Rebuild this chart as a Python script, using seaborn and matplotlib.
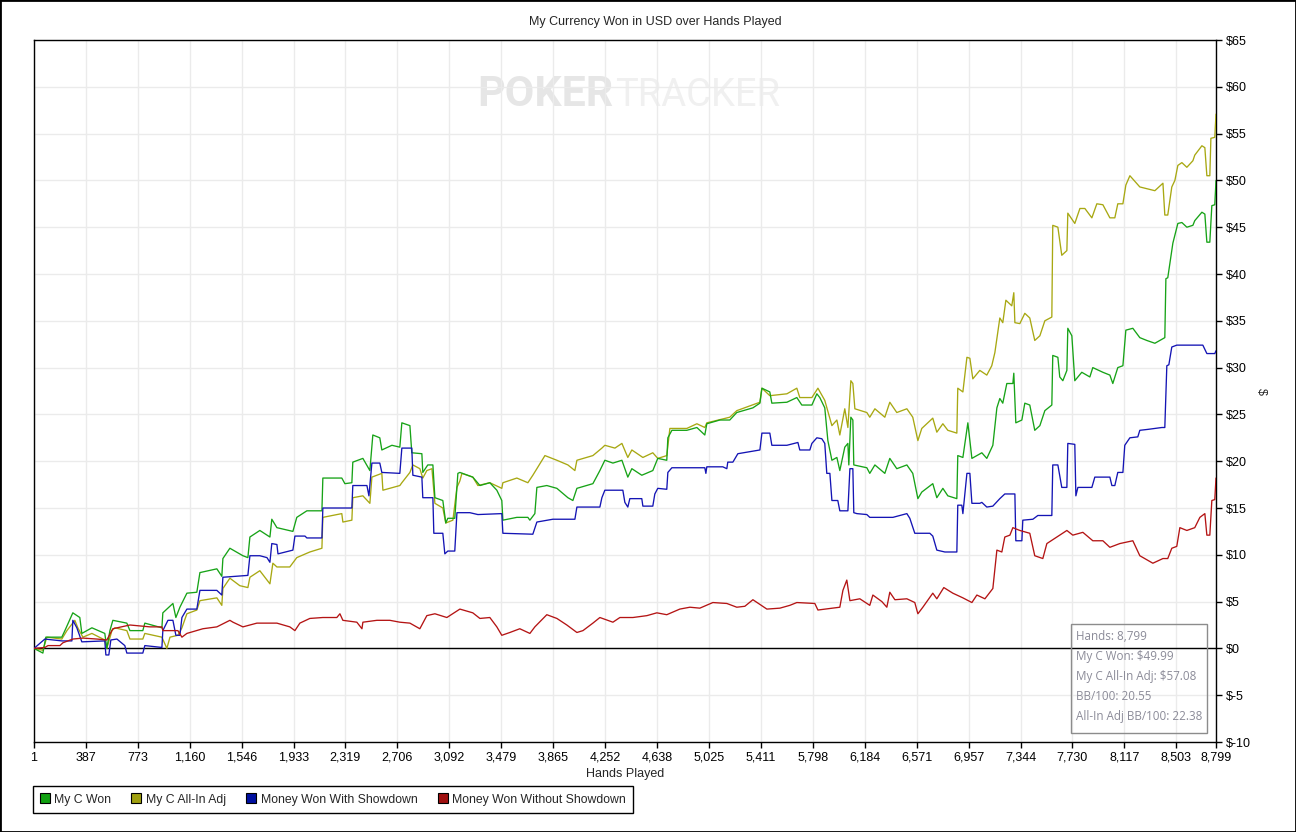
import numpy as np
import pandas as pd
import matplotlib
matplotlib.use("Agg")
import matplotlib.pyplot as plt
import seaborn as sns
from matplotlib.lines import Line2D
from matplotlib.patches import Rectangle

# ---------------- data ----------------
won_hands = [1, 67, 89, 208, 231, 290, 342, 357, 432, 528, 543, 566, 588, 692, 715, 811, 826, 953, 960,
             1035, 1057, 1087, 1139, 1213, 1236, 1362, 1399, 1407, 1459, 1556, 1593, 1608, 1682, 1757,
             1771, 1809, 1928, 1957, 2032, 2144, 2151, 2292, 2315, 2367, 2374, 2449, 2501, 2523, 2575,
             2590, 2665, 2724, 2739, 2799, 2813, 2888, 2895, 2932, 2970, 2985, 3044, 3066, 3081, 3133,
             3156, 3171, 3267, 3320, 3394, 3446, 3483, 3491, 3595, 3677, 3692, 3729, 3744, 3818, 3893,
             3975, 4012, 4042, 4161, 4213, 4250, 4310, 4377, 4421, 4451, 4525, 4607, 4644, 4711, 4719,
             4749, 4860, 4935, 4994, 5009, 5106, 5180, 5232, 5352, 5404, 5419, 5478, 5493, 5605, 5679,
             5716, 5791, 5828, 5850, 5887, 5910, 5940, 5977, 5999, 6036, 6059, 6066, 6081, 6096, 6103,
             6200, 6222, 6260, 6334, 6371, 6423, 6498, 6542, 6580, 6609, 6691, 6721, 6766, 6803, 6870,
             6877, 6915, 6952, 6982, 7056, 7093, 7138, 7168, 7190, 7212, 7242, 7287, 7294, 7309, 7354,
             7376, 7413, 7450, 7488, 7525, 7577, 7584, 7622, 7636, 7659, 7689, 7696, 7726, 7748, 7800,
             7860, 7882, 7957, 8009, 8031, 8068, 8106, 8128, 8180, 8232, 8284, 8344, 8418, 8426, 8440,
             8470, 8478, 8515, 8545, 8582, 8627, 8641, 8694, 8716, 8731, 8753, 8768, 8790, 8799]
won_vals = [0, -0.5, 1.2, 1.2, 1.9, 3.8, 3.3, 1.6, 2.2, 1.6, 0, 1.9, 3.0, 2.7, 1.9, 1.9, 2.7, 2.2, 3.8,
            4.8, 3.3, 4.4, 5.9, 6.0, 8.1, 8.5, 7.7, 9.6, 10.7, 9.9, 9.7, 11.9, 12.6, 11.9,
            13.8, 12.9, 12.5, 14.0, 14.7, 14.7, 18.2, 18.2, 17.6, 17.7, 19.9, 20.3, 19.0, 22.8, 22.5,
            21.2, 21.7, 21.5, 24.1, 23.8, 20.9, 20.8, 18.8, 19.6, 19.6, 16.1, 15.8, 13.4, 13.9, 13.9,
            18.7, 18.8, 18.3, 17.4, 17.7, 16.9, 15.8, 13.7, 14.0, 14.0, 13.7, 14.4, 17.2, 17.4, 17.1,
            16.1, 15.8, 17.1, 17.6, 19.0, 20.1, 19.8, 20.1, 18.3, 19.2, 18.5, 19.0, 20.3, 20.1, 22.5,
            23.3, 23.3, 23.6, 22.8, 24.0, 24.4, 24.4, 25.2, 25.7, 26.2, 27.8, 27.4, 26.2, 26.3, 26.8,
            26.0, 26.0, 27.2, 26.8, 25.7, 22.2, 20.1, 20.4, 19.0, 21.5, 21.9, 19.6, 24.7, 24.4, 19.6,
            19.3, 18.7, 19.6, 18.7, 20.3, 19.2, 19.6, 18.7, 16.0, 16.7, 17.6, 16.1, 17.1, 16.3, 16.0,
            20.6, 20.4, 24.1, 20.3, 20.9, 20.3, 21.7, 25.7, 26.7, 26.2, 28.3, 28.3, 29.4, 24.1, 24.4,
            26.2, 26.0, 23.3, 23.8, 25.4, 26.0, 31.3, 31.1, 29.0, 28.6, 29.7, 34.2, 33.4, 28.6, 29.5,
            29.0, 30.0, 29.5, 29.2, 28.3, 30.0, 30.2, 34.0, 34.2, 33.2, 32.9, 32.6, 33.2, 39.5, 39.6,
            42.5, 43.3, 45.4, 45.5, 45.0, 45.2, 45.7, 46.6, 46.4, 43.4, 43.4, 47.3, 47.4, 49.99]

adj_hands = [1, 67, 97, 208, 246, 305, 327, 365, 432, 528, 543, 581, 603, 692, 715, 811, 826, 953, 990,
             1013, 1072, 1102, 1139, 1213, 1236, 1362, 1399, 1407, 1459, 1533, 1593, 1608, 1682, 1757,
             1779, 1809, 1905, 1957, 2054, 2144, 2151, 2292, 2300, 2367, 2374, 2449, 2501, 2516, 2590,
             2598, 2724, 2739, 2799, 2821, 2873, 2895, 2925, 2963, 2985, 3044, 3066, 3119, 3149, 3171,
             3186, 3267, 3305, 3394, 3483, 3491, 3595, 3677, 3714, 3804, 3893, 3975, 4027, 4042, 4161,
             4228, 4250, 4325, 4377, 4421, 4451, 4533, 4607, 4644, 4711, 4734, 4860, 4935, 4994, 5009,
             5180, 5232, 5404, 5419, 5478, 5605, 5679, 5701, 5791, 5836, 5887, 5940, 5977, 5999, 6036,
             6059, 6081, 6096, 6111, 6200, 6222, 6260, 6334, 6371, 6423, 6498, 6542, 6580, 6609, 6691,
             6721, 6766, 6803, 6870, 6877, 6915, 6945, 6967, 6989, 7041, 7093, 7130, 7153, 7190, 7212,
             7235, 7279, 7294, 7302, 7339, 7376, 7413, 7450, 7488, 7525, 7577, 7584, 7622, 7651, 7689,
             7696, 7748, 7786, 7823, 7875, 7912, 7957, 8009, 8046, 8068, 8106, 8128, 8158, 8232, 8344,
             8404, 8418, 8440, 8470, 8493, 8515, 8545, 8582, 8627, 8641, 8694, 8716, 8731, 8753, 8761,
             8790, 8799]
adj_vals = [0, -0.2, 1.2, 1.0, 1.9, 3.0, 2.2, 1.2, 1.6, 0.9, 0, 1.9, 2.2, 1.9, 1.0, 1.0, 1.6, 1.2, 0,
            1.2, 1.4, 2.2, 3.7, 4.1, 5.1, 5.4, 4.6, 6.4, 7.5, 6.7, 6.5, 7.6, 8.3, 6.9,
            9.1, 8.7, 8.7, 9.7, 10.3, 10.7, 14.0, 14.4, 13.5, 13.7, 16.1, 16.3, 15.5, 18.3, 18.7,
            16.9, 17.4, 17.7, 18.8, 19.6, 19.2, 18.2, 19.0, 19.2, 15.5, 15.0, 13.4, 13.7, 17.2, 17.9,
            18.7, 18.3, 17.4, 17.7, 17.1, 17.7, 18.2, 17.7, 18.5, 20.6, 20.1, 19.6, 19.0, 20.1, 20.6,
            21.4, 21.7, 21.4, 21.9, 20.4, 21.2, 20.4, 20.9, 20.3, 20.6, 23.5, 23.5, 24.0, 23.6, 24.1,
            24.7, 25.4, 26.3, 27.8, 27.0, 27.2, 27.8, 26.8, 26.8, 27.8, 26.5, 23.8, 24.4, 22.8, 25.6,
            23.6, 28.6, 28.3, 25.6, 25.2, 24.7, 25.6, 24.7, 26.3, 25.2, 25.6, 24.7, 22.2, 23.5, 24.6,
            23.1, 24.0, 23.3, 23.0, 27.8, 27.4, 31.1, 31.0, 28.8, 29.7, 29.2, 30.2, 31.6, 35.3, 34.8,
            37.2, 36.6, 38.0, 34.8, 34.7, 35.8, 35.3, 32.9, 33.4, 35.0, 35.4, 45.2, 45.0, 42.0, 42.5,
            46.5, 45.4, 47.0, 47.0, 46.0, 47.5, 47.4, 46.0, 46.0, 47.5, 47.5, 49.5, 50.5, 49.3, 48.9,
            49.7, 46.3, 46.3, 49.3, 50.0, 51.6, 51.9, 51.4, 52.1, 52.7, 53.7, 53.5, 50.5, 50.5, 54.5,
            54.6, 57.08]

sd_hands = [1, 82, 208, 283, 290, 320, 357, 528, 536, 558, 573, 618, 677, 692, 811, 826, 953, 960, 998,
            1035, 1057, 1087, 1102, 1139, 1213, 1236, 1362, 1399, 1407, 1593, 1608, 1682, 1735, 1757,
            1771, 1809, 1817, 1928, 1943, 2018, 2032, 2144, 2151, 2367, 2374, 2479, 2494, 2516, 2575,
            2590, 2724, 2739, 2813, 2821, 2888, 2895, 2970, 2977, 3044, 3059, 3081, 3133, 3149, 3245,
            3305, 3483, 3491, 3714, 3744, 3863, 4027, 4042, 4213, 4228, 4250, 4384, 4399, 4421, 4436,
            4525, 4533, 4607, 4622, 4644, 4711, 4719, 4749, 4994, 5002, 5009, 5128, 5158, 5165, 5203,
            5240, 5404, 5419, 5478, 5493, 5605, 5687, 5701, 5776, 5791, 5828, 5865, 5887, 5902, 5925,
            5940, 5984, 5999, 6059, 6074, 6096, 6103, 6126, 6200, 6222, 6394, 6498, 6520, 6557, 6669,
            6691, 6721, 6781, 6870, 6877, 6907, 6915, 6945, 6967, 6982, 7041, 7056, 7093, 7138, 7190,
            7227, 7302, 7309, 7354, 7361, 7436, 7473, 7577, 7584, 7622, 7651, 7689, 7696, 7748, 7756,
            7771, 7875, 7897, 8009, 8024, 8046, 8068, 8106, 8120, 8158, 8217, 8232, 8292, 8396, 8418,
            8433, 8448, 8470, 8507, 8701, 8731, 8790, 8799]
sd_vals = [0, 1.0, 0.8, 0.8, 3.0, 2.2, 0.7, 0.8, -0.7, -0.7, 0.9, 1.0, 0.3, -0.5, -0.5, 0.3, 0.1, 1.9, 3.0,
           3.0, 1.4, 1.4, 3.3, 4.2, 4.2, 6.2, 6.2, 5.7, 7.6, 7.8, 9.9, 9.9, 9.7, 9.2,
           11.2, 11.1, 10.1, 10.5, 12.0, 12.0, 11.8, 11.8, 15.0, 15.0, 17.4, 17.4, 16.3, 19.8, 19.8,
           18.8, 18.7, 21.4, 21.4, 18.5, 18.3, 16.1, 16.1, 12.3, 12.3, 10.1, 10.4, 10.4, 14.5, 14.5,
           14.3, 14.4, 12.3, 12.2, 13.5, 13.8, 13.8, 15.1, 15.1, 16.1, 16.9, 16.9, 15.6, 15.1, 16.0,
           16.0, 15.2, 15.2, 16.5, 17.1, 17.0, 18.8, 19.3, 19.3, 18.7, 19.4, 19.4, 19.2, 19.9, 19.9,
           20.8, 21.2, 23.0, 23.0, 21.7, 21.7, 22.0, 21.2, 21.2, 21.9, 22.5, 22.4, 21.9, 18.7, 18.7,
           15.8, 15.8, 14.7, 14.7, 19.2, 19.2, 14.5, 14.4, 14.3, 14.0, 14.0, 14.4, 13.9, 12.3, 12.3,
           12.0, 10.5, 10.3, 10.3, 15.3, 15.3, 14.4, 18.7, 18.7, 15.5, 15.5, 15.6, 15.1, 15.2, 16.0,
           16.5, 16.5, 11.5, 11.5, 13.7, 13.8, 14.2, 14.2, 19.6, 19.6, 17.2, 17.2, 21.9, 21.8, 16.3,
           17.2, 17.2, 18.3, 18.3, 17.4, 17.4, 18.8, 18.8, 21.7, 22.5, 22.6, 23.3, 23.4, 23.6, 23.6,
           30.2, 30.3, 32.2, 32.4, 32.4, 31.5, 31.5, 31.8]

nsd_hands = [1, 82, 105, 194, 216, 290, 365, 469, 543, 588, 715, 864, 953, 960, 1072, 1102, 1139, 1258,
             1362, 1459, 1482, 1556, 1660, 1809, 1905, 1943, 1980, 2054, 2151, 2255, 2278, 2300, 2404,
             2442, 2449, 2553, 2650, 2724, 2799, 2873, 2925, 2985, 3074, 3171, 3267, 3320, 3394, 3446,
             3483, 3543, 3617, 3692, 3729, 3818, 3893, 3967, 4042, 4087, 4161, 4213, 4310, 4362, 4459,
             4563, 4637, 4711, 4808, 4883, 4957, 5054, 5158, 5232, 5292, 5352, 5456, 5553, 5627, 5679,
             5813, 5836, 5947, 5999, 6022, 6051, 6074, 6148, 6222, 6245, 6312, 6349, 6371, 6409, 6498,
             6557, 6580, 6617, 6691, 6721, 6773, 6840, 6915, 6982, 7019, 7079, 7138, 7168, 7205, 7227,
             7265, 7287, 7339, 7413, 7450, 7510, 7540, 7614, 7689, 7733, 7808, 7882, 7957, 8009, 8083,
             8180, 8232, 8329, 8404, 8440, 8470, 8507, 8530, 8582, 8641, 8679, 8716, 8731, 8753, 8768,
             8790, 8799]
nsd_vals = [0, 0.1, 0.3, 0.3, 0.6, 1.0, 1.1, 1.0, 0.9, 2.1, 2.5, 2.3, 2.3, 1.9, 1.9, 1.2, 1.6, 2.1,
            2.3, 3.0, 2.8, 2.3, 2.7, 2.7, 2.3, 1.9, 2.7, 3.2, 3.3, 3.3, 3.7, 3.0, 2.8,
            2.1, 2.8, 3.0, 3.0, 2.8, 2.7, 2.1, 3.5, 3.7, 3.3, 4.2, 3.8, 3.2, 3.3, 2.3,
            1.4, 1.7, 2.1, 1.6, 2.3, 3.6, 3.2, 2.5, 1.7, 1.9, 2.7, 3.3, 2.8, 3.3, 3.3,
            3.5, 3.8, 3.6, 4.2, 4.4, 4.3, 4.9, 4.8, 4.4, 4.5, 5.2, 4.2, 4.3, 4.6, 4.9,
            4.8, 4.1, 4.3, 4.4, 6.2, 7.3, 5.1, 5.3, 4.6, 5.7, 5.0, 4.4, 6.0, 5.2, 5.3,
            4.9, 3.7, 4.4, 5.9, 5.3, 6.5, 5.9, 5.4, 4.9, 5.7, 5.3, 6.4, 10.5, 10.3, 11.9,
            12.1, 12.9, 12.6, 12.3, 9.9, 9.6, 11.2, 11.9, 12.6, 12.1, 12.4, 11.5, 11.5, 10.8, 11.2,
            11.5, 9.9, 9.1, 9.6, 9.6, 10.7, 10.9, 12.9, 12.6, 12.9, 14.0, 14.4, 12.1, 12.1, 15.8,
            15.9, 18.2]

series_names = ["My C Won", "My C All-In Adj", "Money Won With Showdown", "Money Won Without Showdown"]
series_colors = ["#17a317", "#a8a812", "#1414b4", "#b41414"]
legend_colors = ["#10a010", "#a0a010", "#0010a0", "#a01010"]

x_ticks = [1, 387, 773, 1160, 1546, 1933, 2319, 2706, 3092, 3479, 3865, 4252, 4638, 5025, 5411,
           5798, 6184, 6571, 6957, 7344, 7730, 8117, 8503, 8799]
y_ticks = list(range(-10, 66, 5))

info_lines = ["Hands: 8,799", "My C Won: $49.99", "My C All-In Adj: $57.08",
              "BB/100: 20.55", "All-In Adj BB/100: 22.38"]
title_text = "My Currency Won in USD over Hands Played"

# ---------------- figure ----------------
sns.set_style("white")
plt.rcParams['font.family'] = ['Liberation Sans', 'DejaVu Sans']

W, H = 1296, 832
fig = plt.figure(figsize=(W / 100, H / 100), dpi=100)
L, R, T, B = 34, 1216, 40, 742
ax = fig.add_axes([L / W, 1 - B / H, (R - L) / W, (B - T) / H])

frames = []
for name, hs, vs in zip(series_names, [won_hands, adj_hands, sd_hands, nsd_hands],
                        [won_vals, adj_vals, sd_vals, nsd_vals]):
    frames.append(pd.DataFrame({"Hands": hs, "Value": vs, "Series": name}))
df = pd.concat(frames, ignore_index=True)

palette = dict(zip(series_names, series_colors))
draw_order = ["My C All-In Adj", "My C Won", "Money Won With Showdown", "Money Won Without Showdown"]
sns.lineplot(data=df, x="Hands", y="Value", hue="Series", hue_order=draw_order, palette=palette,
             estimator=None, sort=False, linewidth=0.95, ax=ax, legend=False, zorder=3)

ax.set_xlim(1, 8799)
ax.set_ylim(-10, 65)
ax.set_xticks(x_ticks)
ax.set_xticklabels([f"{v:,}" for v in x_ticks])
ax.yaxis.tick_right()
ax.yaxis.set_label_position("right")
ax.set_yticks(y_ticks)
ax.set_yticklabels([f"${v}" for v in y_ticks])
ax.grid(True, color="#ebebeb", linewidth=1.0)
ax.set_axisbelow(True)
ax.axhline(0, color="black", linewidth=1.0, zorder=2)
for sp in ax.spines.values():
    sp.set_color("black")
    sp.set_linewidth(1.0)
ax.tick_params(axis="both", which="both", direction="out", length=4, width=1, color="black",
               labelsize=9, pad=3, labelcolor="black")
ax.tick_params(axis="y", left=False, right=True)
ax.tick_params(axis="x", bottom=True)
ax.set_xlabel("Hands Played", fontsize=9, labelpad=3)
ax.set_ylabel("$", fontsize=9, rotation=270, labelpad=12)

fig.text(655 / W, 1 - 22 / H, title_text, ha="center", va="center", fontsize=9)

# watermark
wm1 = ax.text(477 / W, 1 - 106 / H, "POKER", transform=fig.transFigure, fontsize=33,
              fontweight="bold", color="#e6e6e6", ha="left", va="baseline", zorder=0.2,
              family="Roboto")
wm2 = ax.text(615 / W, 1 - 106 / H, "TRACKER", transform=fig.transFigure, fontsize=33,
              color="#f0f0f0", ha="left", va="baseline", zorder=0.2, family="Roboto")
fig.canvas.draw()
rend = fig.canvas.get_renderer()
for t, target in [(wm1, 613 - 477), (wm2, 780 - 615)]:
    w = t.get_window_extent(rend).width
    t.set_fontsize(t.get_fontsize() * target / w)

# info box
fig.patches.append(Rectangle((1071 / W, 1 - 733 / H), (1207 - 1071) / W, (733 - 624) / H,
                             transform=fig.transFigure, fill=False, edgecolor="#8c8c8c",
                             linewidth=1.0, zorder=5))
for i, line in enumerate(info_lines):
    fig.text(1076 / W, 1 - (636 + i * 20.2) / H, line, ha="left", va="center", fontsize=8.4,
             color="#8b8b98", family=["Open Sans", "DejaVu Sans"], zorder=6)

# legend
handles = [Line2D([], [], marker="s", linestyle="none", markersize=7.5, markerfacecolor=c,
                  markeredgecolor="black", markeredgewidth=0.8) for c in legend_colors]
leg = fig.legend(handles, series_names, loc="lower left", bbox_to_anchor=(33 / W, 1 - 813 / H),
                 ncol=4, frameon=True, fancybox=False, edgecolor="black", framealpha=1,
                 fontsize=8.8, handlelength=0.7, handletextpad=0.4, columnspacing=1.75,
                 borderpad=0.6, borderaxespad=0)
leg.get_frame().set_linewidth(1.0)

# outer border
fig.patches.append(Rectangle((0, 0), 1, 1, transform=fig.transFigure, fill=False,
                             edgecolor="black", linewidth=2.0, zorder=10))

fig.savefig("out.png", dpi=100)
